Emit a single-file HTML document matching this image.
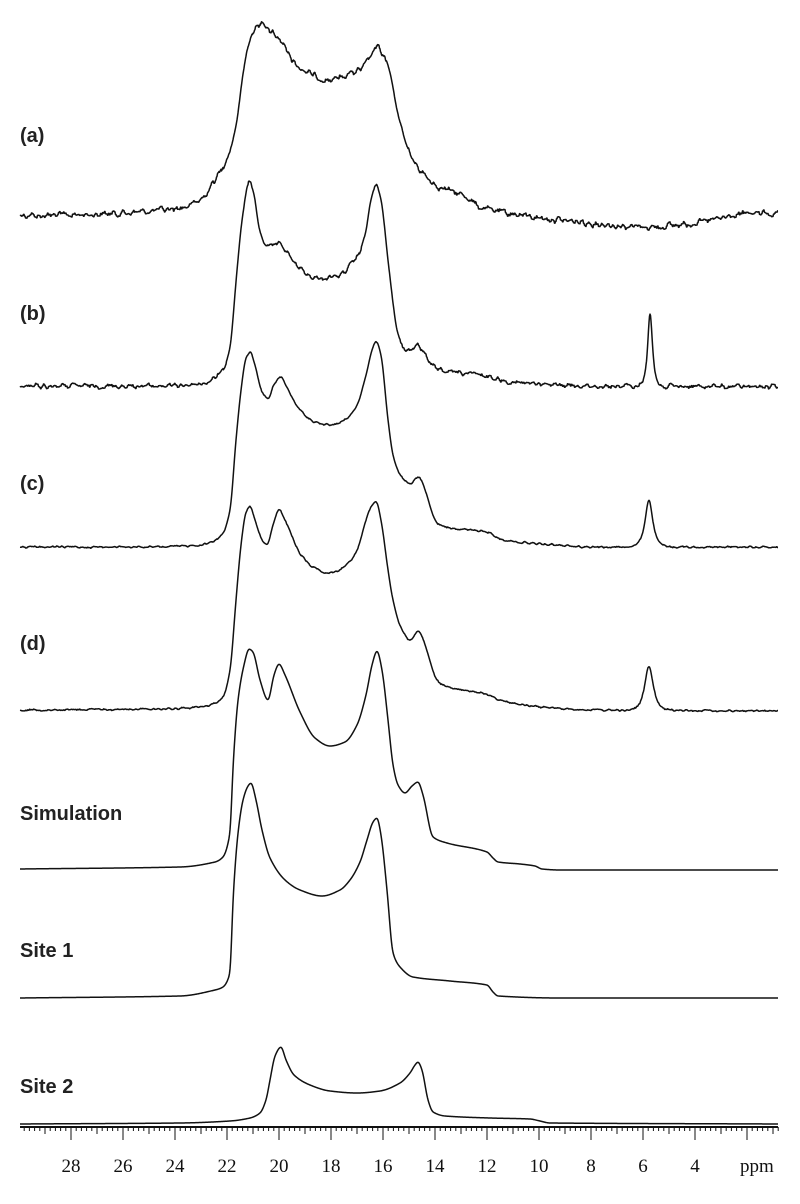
<!DOCTYPE html>
<html><head><meta charset="utf-8"><style>
html,body{margin:0;padding:0;background:#fff;width:800px;height:1204px;overflow:hidden}
svg{display:block}
.lb{font-family:"Liberation Sans",sans-serif;font-weight:bold;font-size:20px;fill:#222}
.ax{font-family:"Liberation Serif",serif;font-size:19px;fill:#111}
</style></head><body>
<svg id="s" width="800" height="1204" viewBox="0 0 800 1204" xmlns="http://www.w3.org/2000/svg">
<text class="lb" x="20" y="142">(a)</text>
<text class="lb" x="20" y="320">(b)</text>
<text class="lb" x="20" y="490">(c)</text>
<text class="lb" x="20" y="650">(d)</text>
<text class="lb" x="20" y="820">Simulation</text>
<text class="lb" x="20" y="957">Site 1</text>
<text class="lb" x="20" y="1093">Site 2</text>
<line x1="20" y1="1127" x2="778" y2="1127" stroke="#111" stroke-width="2"/>
<g id="ticks" stroke="#111" stroke-width="1"></g>
<g id="labs"></g>
<text class="ax" x="740" y="1172">ppm</text>
<g id="tr" fill="none" stroke="#111" stroke-width="1.5" stroke-linejoin="round"></g>
</svg>
<script>
var NS="http://www.w3.org/2000/svg";
function el(t,a,p){var e=document.createElementNS(NS,t);for(var k in a)e.setAttribute(k,a[k]);p.appendChild(e);return e;}
var tk=document.getElementById('ticks'),lb=document.getElementById('labs');
for(var i=0;;i++){var p=30-i*0.2; var x=71+(28-p)*26; if(x>779)break; if(x<19.5)continue;
 var r=Math.round(p*5); var len=(r%10===0)?13:(r%5===0?7:4);
 el('line',{x1:x.toFixed(1),y1:1127,x2:x.toFixed(1),y2:1127+len},tk);}
for(var p=28;p>=4;p-=2){var x=71+(28-p)*26;var t=el('text',{'class':'ax',x:x,y:1172,'text-anchor':'middle'},lb);t.textContent=p;}
var seed=12345;function rnd(){seed=(seed*1103515245+12345)%2147483648;return seed/2147483648;}
function mono(pts){pts.sort(function(a,b){return a[0]-b[0]});var n=pts.length,d=[],m=[];
 for(var i=0;i<n-1;i++)d.push((pts[i+1][1]-pts[i][1])/(pts[i+1][0]-pts[i][0]));
 m[0]=d[0];m[n-1]=d[n-2];for(var i=1;i<n-1;i++){if(d[i-1]*d[i]<=0)m[i]=0;else m[i]=2/(1/d[i-1]+1/d[i]);}
 return function(x){var i=0;while(i<n-2&&x>pts[i+1][0])i++;var x0=pts[i][0],x1=pts[i+1][0],h=x1-x0,t=(x-x0)/h;
  if(t<0)t=0;if(t>1)t=1;var t2=t*t,t3=t2*t;
  return (2*t3-3*t2+1)*pts[i][1]+(t3-2*t2+t)*h*m[i]+(-2*t3+3*t2)*pts[i+1][1]+(t3-t2)*h*m[i+1];};}
function noise(amp,sm){var arr=[];var raw=[];for(var i=0;i<800;i++)raw.push(rnd()-0.5);
 for(var i=0;i<800;i++){var s=0,c=0;for(var k=-sm;k<=sm;k++){var j=i+k;if(j>=0&&j<800){s+=raw[j];c++;}}arr.push(s/c*amp*Math.sqrt(c)*1.4);}return arr;}
var g=document.getElementById('tr');
function trace(pts,amp,sm,extra){var f=mono(pts);var nz=amp?noise(amp,sm):null;
 var ys=[];for(var x=18;x<=780;x+=0.5){ys.push(f(x));}
 // smooth spline slightly to round peaks
 var sy=[];for(var i=0;i<ys.length;i++){var s=0,c=0;for(var k=-3;k<=3;k++){var j=i+k;if(j>=0&&j<ys.length){var w=4-Math.abs(k);s+=ys[j]*w;c+=w;}}sy.push(s/c);}
 var d='';
 for(var i=0;i<sy.length;i++){var x=18+i*0.5;if(x<20||x>778)continue;var y=sy[i];if(extra)y=extra(x,y);
  if(nz){var xi=Math.round(x);var grad=Math.abs(f(x+1)-f(x-1));var w=grad>6?0.3:1;y+=nz[xi]*w;}
  d+=(d?'L':'M')+x+' '+y.toFixed(2);}
 el('path',{d:d},g);}
function pk(x0,h,w){return function(x,y){var t=(x-x0)/w;return y-h/(1+t*t)*Math.exp(-t*t*0.15);};}
// (a)
trace([[20,216],[100,214],[180,208],[200,200],[213,183],[230,150],[237,120],[243,73],[250,40],[258,24],[268,30],[280,40],[297,65],[315,76],[330,80],[345,75],[360,70],[370,58],[376,47],[383,55],[390,73],[397,110],[413,160],[440,187],[467,197],[480,207],[520,215],[580,222],[650,227],[700,222],[760,213],[778,215]],4,1);
// (b)
trace([[20,386],[150,386],[200,384],[215,378],[225,365],[230,347],[237,270],[243,213],[249,182],[254,195],[260,232],[268,247],[278,241],[285,250],[300,268],[315,278],[335,277],[350,266],[357,257],[365,235],[371,200],[376,185],[381,200],[388,260],[393,303],[397,330],[404,348],[410,350],[417,345],[427,357],[437,370],[460,373],[480,375],[520,383],[600,386],[778,387]],3,1,pk(650,74,3.2));
// (c)
trace([[20,547],[150,547],[200,545],[215,540],[223,533],[230,510],[236,440],[241,390],[246,358],[250,352],[255,365],[262,392],[268,398],[274,385],[281,377],[287,388],[300,410],[315,422],[330,425],[345,420],[357,405],[366,375],[372,350],[376,341],[381,355],[388,420],[393,455],[400,475],[410,484],[419,477],[425,490],[437,523],[447,527],[490,533],[500,539],[540,544],[600,547],[778,547]],1.2,1,pk(649,47,5));
// (d)
trace([[20,710],[150,709],[200,707],[215,703],[223,697],[230,670],[236,600],[241,545],[246,512],[250,506],[255,520],[262,540],[267,545],[273,525],[279,510],[285,520],[300,553],[315,568],[330,573],[345,566],[357,550],[366,520],[372,505],[376,501],[381,520],[388,570],[393,600],[400,625],[410,640],[419,631],[425,645],[437,680],[447,687],[490,695],[500,700],[540,707],[600,710],[778,711]],1.2,1,pk(649,44,5.5));
// Simulation
trace([[20,869],[180,867],[215,862],[223,857],[230,833],[233,767],[238,700],[244,665],[249,649],[253,652],[260,680],[268,700],[274,675],[279,664],[285,675],[300,712],[315,738],[330,746],[345,742],[357,725],[366,695],[372,665],[377,651],[382,670],[388,720],[393,765],[398,785],[405,793],[412,786],[418,782],[423,795],[433,837],[447,843],[487,852],[493,858],[498,862],[520,864],[535,866],[542,869],[560,870],[778,870]],0,0);
// Site 1
trace([[20,998],[180,996],[215,990],[223,987],[230,973],[233,900],[238,833],[243,800],[248,786],[251,783],[256,800],[262,830],[270,858],[285,880],[300,890],[322,896],[340,890],[350,880],[360,862],[367,840],[373,822],[377,818],[381,835],[387,890],[393,953],[400,967],[413,977],[450,981],[487,985],[493,992],[498,996],[560,998],[778,998]],0,0);
// Site 2
trace([[20,1124],[180,1123],[230,1121],[250,1118],[260,1113],[266,1100],[270,1080],[275,1056],[281,1047],[286,1060],[294,1075],[310,1085],[330,1091],[357,1093],[380,1091],[400,1083],[410,1073],[415,1065],[418,1062],[422,1070],[428,1100],[433,1112],[445,1116],[490,1118],[530,1119],[540,1121],[550,1123],[778,1124]],0,0);
</script>
</body></html>
